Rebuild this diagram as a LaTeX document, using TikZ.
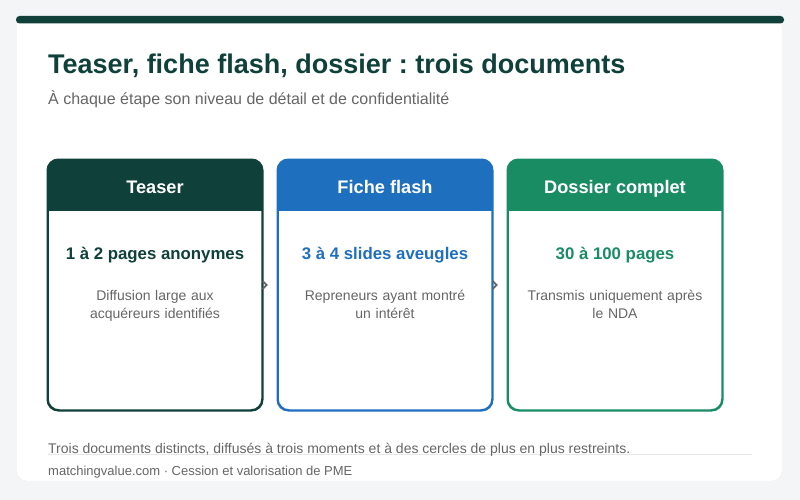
\documentclass[tikz,border=0pt]{standalone}
\usepackage{fontspec}
\setmainfont{Liberation Sans}
\usetikzlibrary{positioning}
\frenchspacing
\definecolor{pagebg}{HTML}{F3F5F7}
\definecolor{deepgreen}{HTML}{0F4039}
\definecolor{flashblue}{HTML}{1F6FBF}
\definecolor{fullgreen}{HTML}{1A8C64}
\definecolor{txtgray}{HTML}{666666}
\definecolor{rulegray}{HTML}{E6E8EB}
\tikzset{
  doccard/.style={draw=#1, line width=1.5pt, fill=white, rounded corners=11pt,
    minimum width=214pt, minimum height=250pt, inner sep=0pt},
  headtxt/.style={text=white, anchor=base, inner sep=0pt, font=\fontsize{18.2}{22}\selectfont\bfseries},
  keytxt/.style={text=#1, anchor=base, inner sep=0pt, font=\fontsize{16.8}{20}\selectfont\bfseries},
  desctxt/.style={text=txtgray, anchor=north, inner sep=0pt, font=\fontsize{14}{18.5}\selectfont, align=center, text width=185pt},
  chev/.style={draw=txtgray, line width=1.8pt}
}
\begin{document}
\begin{tikzpicture}[x=1pt,y=-1pt]
\useasboundingbox (0,0) rectangle (800,500);
\fill[pagebg] (0,0) rectangle (800,500);
\fill[white, draw=black!6, rounded corners=10pt] (16.5,16.5) rectangle (782,481);
\fill[deepgreen, rounded corners=3.5pt] (16,16) rectangle (784,23.5);
\node[anchor=base west, text=deepgreen, font=\fontsize{27}{32}\selectfont\bfseries, inner sep=0pt] (title) at (48,74) {Teaser, fiche flash, dossier : trois documents};
\node[anchor=base west, text=txtgray, font=\fontsize{16}{19}\selectfont, inner sep=0pt] (subtitle) at (48,105) {À chaque étape son niveau de détail et de confidentialité};
% three cards
\foreach \i/\x/\col/\head/\key/\desc in {
  1/155/deepgreen/Teaser/1 à 2 pages anonymes/Diffusion large aux\\acquéreurs identifiés,
  2/385/flashblue/Fiche flash/3 à 4 slides aveugles/Repreneurs ayant montré\\un intérêt,
  3/615/fullgreen/Dossier complet/30 à 100 pages/Transmis uniquement après\\le NDA}{
  \node[doccard=\col] (c\i) at (\x,285) {};
  \begin{scope}
    \clip[rounded corners=11pt] (c\i.south west) rectangle (c\i.north east);
    \fill[\col] (c\i.north west) rectangle ([yshift=-52pt]c\i.north east);
  \end{scope}
  \draw[\col, line width=1.5pt, rounded corners=11pt] (c\i.south west) rectangle (c\i.north east);
  \node[headtxt] (h\i) at ([yshift=-34pt]c\i.north) {\head};
  \node[keytxt=\col] (k\i) at ([yshift=-100pt]c\i.north) {\key};
  \node[desctxt] (d\i) at ([yshift=-130.5pt]c\i.north) {\desc};
}
\draw[chev] ([yshift=4pt]c1.east) -- ++(3.8pt,-4pt) -- ++(-3.8pt,-4pt);
\draw[chev] ([yshift=4pt]c2.east) -- ++(3.8pt,-4pt) -- ++(-3.8pt,-4pt);
\draw[rulegray, line width=0.8pt] (48,454.5) -- (752,454.5);
\node[anchor=base west, text=txtgray, font=\fontsize{14}{17}\selectfont, inner sep=0pt] (note) at (48,453) {Trois documents distincts, diffusés à trois moments et à des cercles de plus en plus restreints.};
\node[anchor=base west, text=txtgray, font=\fontsize{13}{16}\selectfont, inner sep=0pt] (source) at (48,475) {matchingvalue.com · Cession et valorisation de PME};
\end{tikzpicture}
\end{document}
